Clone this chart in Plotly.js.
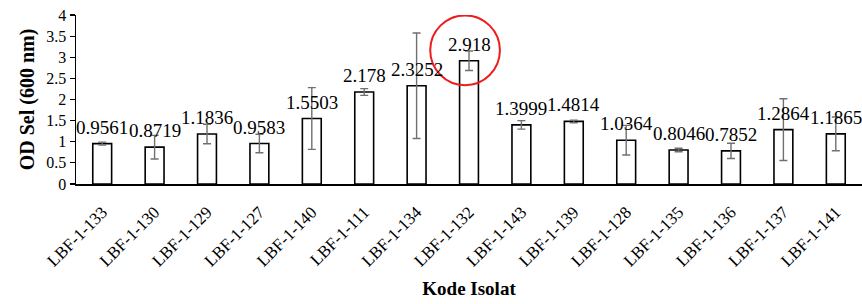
<!DOCTYPE html>
<html>
<head>
<meta charset="utf-8">
<script src="https://cdn.plot.ly/plotly-3.0.1.min.js"></script>
<style>html,body{margin:0;padding:0;background:#fff;}#chart{width:862px;height:304px;}</style>
</head>
<body>
<div id="chart"></div>
<script>
const categories = ["LBF-1-133","LBF-1-130","LBF-1-129","LBF-1-127","LBF-1-140","LBF-1-111","LBF-1-134","LBF-1-132","LBF-1-143","LBF-1-139","LBF-1-128","LBF-1-135","LBF-1-136","LBF-1-137","LBF-1-141"];
const values = [0.9561,0.8719,1.1836,0.9583,1.5503,2.178,2.3252,2.918,1.3999,1.4814,1.0364,0.8046,0.7852,1.2864,1.1865];
const errors = [0.035,0.28,0.23,0.22,0.73,0.08,1.25,0.23,0.1,0.03,0.35,0.04,0.18,0.73,0.4];
const valueLabels = ["0.9561","0.8719","1.1836","0.9583","1.5503","2.178","2.3252","2.918","1.3999","1.4814","1.0364","0.8046","0.7852","1.2864","1.1865"];

const serif = "Liberation Serif";

const trace = {
  type: "bar",
  x: categories,
  y: values,
  marker: {color: "#ffffff", line: {color: "#000000", width: 1.6}},
  error_y: {type: "data", array: errors, visible: true, color: "#707070", thickness: 1.4, width: 4},
  hoverinfo: "none"
};

const annotations = categories.map((c, i) => ({
  x: c, y: values[i], xref: "x", yref: "y",
  text: valueLabels[i], showarrow: false,
  yanchor: "bottom", yshift: 4,
  font: {family: serif, size: 19, color: "#000"}
}));

const layout = {
  width: 862, height: 304,
  margin: {l: 76, r: 0, t: 15, b: 120, pad: 0},
  paper_bgcolor: "#fff", plot_bgcolor: "#fff",
  bargap: 0.64,
  showlegend: false,
  font: {family: serif, color: "#000"},
  xaxis: {
    type: "category",
    range: [-0.5, 14.5],
    showline: true, linecolor: "#000", linewidth: 1.5,
    showgrid: false, zeroline: false,
    ticks: "outside", ticklen: 10, tickcolor: "rgba(0,0,0,0)", tickangle: -45,
    tickfont: {family: serif, size: 17, color: "#000"},
    title: {text: "<b>Kode Isolat</b>", font: {family: serif, size: 19, color: "#000"}, standoff: 12}
  },
  yaxis: {
    range: [0, 4], dtick: 0.5,
    showline: true, linecolor: "#000", linewidth: 1.5,
    showgrid: false, zeroline: false,
    ticks: "outside", ticklen: 5, tickcolor: "#000", tickwidth: 1.2,
    tickfont: {family: serif, size: 16, color: "#000"},
    title: {text: "<b>OD Sel (600 nm)</b>", font: {family: serif, size: 20, color: "#000"}, standoff: 6}
  },
  annotations: annotations,
  shapes: [{
    type: "circle", xref: "x", yref: "y",
    x0: 6.26, x1: 7.59, y0: 2.34, y1: 3.99,
    line: {color: "#ee1c1c", width: 2}
  }]
};

Plotly.newPlot("chart", [trace], layout, {staticPlot: true, displayModeBar: false});
</script>
</body>
</html>
